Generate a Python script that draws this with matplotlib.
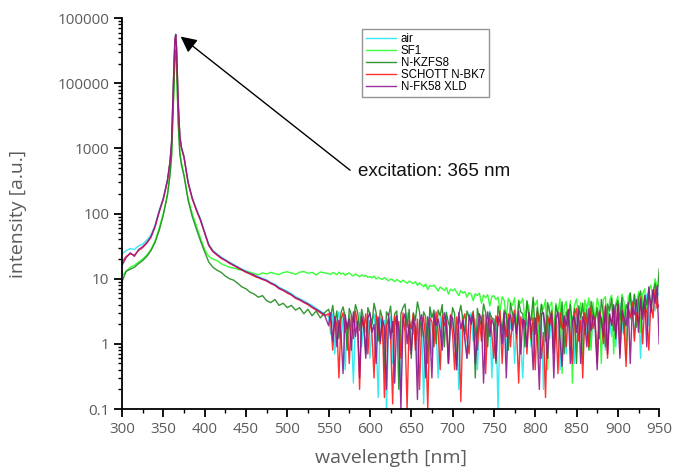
import matplotlib
matplotlib.use("Agg")
import matplotlib.pyplot as plt
from matplotlib.ticker import FixedLocator, FixedFormatter, LogLocator, MultipleLocator, NullFormatter

# sample grid: 5 nm steps, finer around the excitation peak, 2.5 nm in the noisy tail
wavelength = (list(range(300, 356, 5))
              + [358, 360, 362, 363, 364, 365, 366, 367, 368, 370, 372]
              + list(range(375, 550, 5))
              + [550 + 2.5 * i for i in range(161)])

air = [
    24, 27, 29, 28, 32, 34, 39, 47, 66, 112, 175, 330,
    620, 1250, 8500, 21000, 46000, 57000, 36000, 14500, 5200, 1550, 1050,
    760, 310, 175, 118, 82, 52, 34, 27, 24, 21.5,
    19.5, 18, 16.5, 15.2, 14, 13.2, 12.3, 11.2, 10.8, 10.1,
    9.6, 8.7, 8.2, 7.4, 6.9, 6.4, 5.9, 5.3, 4.9, 4.6,
    4.2, 3.9, 3.5, 3.2, 2.9,
    2.6, 1.4, 2.9, 0.7, 2.3, 3.1, 1.2, 2.5, 0.4, 2.0,
    2.8, 1.6, 0.25, 2.4, 1.9, 3.0, 0.9, 2.2, 1.5, 2.7,
    0.6, 2.1, 2.9, 1.3, 0.15, 2.5, 1.8, 2.3, 0.1, 1.7,
    2.6, 0.5, 2.0, 2.8, 1.1, 0.2, 2.4, 1.6, 3.0, 0.8,
    2.2, 1.4, 2.7, 0.35, 1.9, 2.5, 0.12, 2.1, 1.3, 2.9,
    0.7, 2.4, 1.8, 0.3, 2.6, 1.2, 2.0, 3.1, 0.5, 1.7,
    2.5, 0.9, 2.2, 0.2, 1.6, 2.8, 1.4, 0.6, 2.3, 3.0,
    1.1, 2.4, 0.4, 1.9, 2.7, 1.5, 0.8, 2.2, 3.2, 0.3,
    1.8, 2.6, 0.1, 2.0, 1.3, 2.9, 0.7, 2.3, 1.7, 3.1,
    0.5, 2.1, 2.7, 1.0, 0.3, 2.5, 1.9, 3.0, 0.9, 2.2,
    1.6, 3.2, 0.6, 2.4, 0.2, 2.0, 2.8, 1.2, 3.4, 0.8,
    2.5, 1.7, 0.4, 2.9, 2.1, 0.7, 3.3, 1.5, 2.6, 0.5,
    3.0, 1.9, 2.4, 0.6, 3.5, 1.4, 2.7, 0.9, 3.1, 2.0,
    0.7, 3.4, 1.8, 2.5, 0.8, 3.6, 2.2, 1.3, 3.8, 0.9,
    2.9, 4.2, 1.5, 3.3, 0.7, 3.9, 2.4, 4.6, 1.2, 3.5,
    5.0, 0.6, 4.4, 2.6, 5.8, 1.9, 4.8, 6.5, 3.2, 5.4,
    6.0,
]

sf1 = [
    11, 13, 15, 16, 18, 20, 23, 28, 38, 60, 100, 200,
    400, 800, 4200, 10500, 26000, 33000, 21000, 7200, 2600, 900, 600,
    400, 170, 100, 65, 42, 28, 22, 20, 19, 17,
    16, 15, 14.5, 14, 13.5, 13, 12.5, 12, 11.5, 12.3,
    11.8, 12.5, 12, 11.6, 12.4, 12.8, 12.2, 11.7, 12.6, 12.9,
    12.1, 12.5, 11.4, 12.7, 12.3,
    12.0, 11.6, 12.4, 12.1, 11.5, 12.6, 11.8, 12.2, 11.3, 11.9,
    12.3, 11.4, 11.0, 11.8, 11.3, 10.7, 11.5, 10.9, 11.2, 10.5,
    10.8, 10.3, 11.0, 9.9, 10.5, 10.1, 9.7, 10.4, 9.8, 9.3,
    9.9, 9.6, 9.0, 9.7, 9.3, 8.8, 9.5, 9.0, 8.5, 9.2,
    8.8, 8.4, 9.0, 7.9, 8.6, 8.1, 7.5, 8.3, 6.8, 7.9,
    7.6, 8.0, 7.2, 6.5, 7.5, 7.0, 6.6, 7.3, 5.8, 6.9,
    6.5, 7.0, 6.2, 5.5, 6.6, 6.0, 6.3, 5.2, 6.1, 5.8,
    4.6, 5.9, 5.5, 6.0, 4.2, 5.6, 5.1, 5.7, 3.8, 5.3,
    5.5, 4.8, 5.2, 3.2, 5.3, 4.6, 2.5, 5.0, 4.3, 3.9,
    5.1, 1.8, 4.7, 4.2, 5.0, 2.4, 4.4, 3.6, 1.1, 4.5,
    3.9, 4.7, 0.6, 4.1, 3.4, 4.8, 0.4, 3.8, 4.4, 1.5,
    4.2, 3.0, 4.9, 0.35, 3.7, 4.5, 1.9, 4.6, 0.25, 3.9,
    4.9, 2.8, 4.3, 0.5, 4.7, 3.5, 5.1, 0.8, 4.4, 2.2,
    5.0, 3.6, 0.5, 4.8, 5.3, 1.3, 4.6, 5.6, 0.7, 4.2,
    5.4, 1.4, 5.8, 4.4, 0.6, 5.2, 6.1, 2.3, 5.6, 4.0,
    6.3, 1.5, 5.9, 7.0, 3.0, 6.6, 8.0, 4.5, 10.0, 7.5,
    8.0,
]

n_kzfs8 = [
    9, 13, 14, 15, 17, 19, 22, 27, 36, 55, 95, 190,
    380, 750, 4000, 10000, 25000, 32000, 20000, 7000, 2500, 800, 550,
    380, 160, 90, 58, 38, 26, 18, 15, 13.5, 12.5,
    11, 10, 9.5, 8.5, 7.5, 7.0, 6.2, 5.8, 5.2, 5.5,
    4.6, 4.3, 4.8, 3.9, 4.2, 3.6, 3.9, 3.3, 3.6, 2.9,
    3.4, 2.7, 3.2, 2.5, 3.0,
    3.4, 2.6, 3.9, 2.1, 3.2, 1.2, 3.0, 3.7, 2.6, 0.8,
    3.5, 2.8, 2.2, 4.0, 3.1, 1.6, 3.4, 2.4, 0.7, 3.6,
    2.9, 2.0, 4.2, 3.0, 1.1, 3.3, 2.5, 0.4, 3.1, 2.7,
    3.8, 1.5, 2.9, 3.2, 0.2, 2.9, 3.6, 4.1, 1.8, 3.4,
    0.6, 3.0, 2.3, 4.4, 3.1, 1.3, 3.1, 2.6, 0.5, 3.7,
    2.5, 3.3, 1.0, 3.3, 2.7, 4.0, 0.9, 3.0, 2.1, 1.7,
    3.6, 2.9, 0.45, 2.8, 3.9, 2.3, 1.4, 3.2, 2.6, 2.2,
    3.2, 0.3, 3.5, 2.4, 1.9, 4.1, 3.0, 0.9, 3.0, 2.5,
    2.4, 0.5, 3.8, 2.6, 1.6, 3.3, 2.8, 0.8, 4.2, 2.9,
    2.5, 1.2, 4.5, 3.1, 2.9, 0.9, 4.6, 2.6, 2.3, 5.2,
    1.4, 3.6, 2.2, 4.0, 2.6, 1.1, 4.3, 3.0, 2.6, 0.7,
    3.9, 2.8, 1.8, 4.4, 0.7, 3.1, 2.4, 4.0, 2.0, 3.5,
    0.5, 3.8, 2.5, 4.2, 1.4, 3.4, 0.8, 4.5, 3.1, 2.2,
    3.6, 1.2, 4.8, 2.9, 0.9, 4.1, 3.2, 5.0, 1.6, 3.8,
    4.6, 2.3, 5.2, 1.4, 4.0, 3.3, 6.0, 2.6, 5.8, 1.8,
    4.9, 6.5, 2.8, 5.5, 4.0, 7.2, 3.2, 6.0, 8.5, 5.0,
    14.0,
]

schott_n_bk7 = [
    18, 22, 24, 23, 27, 30, 35, 43, 62, 105, 165, 315,
    600, 1200, 8000, 20000, 45000, 55000, 35000, 14000, 5000, 1500, 1000,
    730, 295, 168, 112, 78, 50, 32, 26, 23, 20.5,
    19, 17.2, 16, 14.6, 13.6, 12.5, 11.8, 10.9, 10.3, 9.7,
    9.2, 8.4, 7.9, 7.0, 6.6, 6.0, 5.6, 5.0, 4.7, 4.3,
    4.0, 3.6, 3.3, 3.0, 2.7,
    2.9, 2.2, 0.8, 2.6, 1.9, 0.3, 2.4, 3.0, 1.5, 2.1,
    0.5, 2.7, 1.2, 3.2, 2.0, 0.2, 2.5, 1.7, 2.9, 0.7,
    2.3, 1.4, 0.3, 2.8, 2.1, 1.0, 2.6, 0.15, 1.9, 2.4,
    1.3, 0.12, 2.7, 1.8, 2.2, 0.6, 3.0, 1.5, 0.1, 2.3,
    1.7, 2.9, 0.8, 2.4, 0.2, 2.0, 2.6, 1.1, 0.1, 2.5,
    2.2, 0.9, 3.1, 1.6, 0.4, 2.7, 1.9, 2.3, 0.5, 2.8,
    1.4, 0.4, 2.6, 1.8, 0.13, 2.3, 2.9, 1.2, 0.7, 2.5,
    3.0, 1.6, 0.8, 2.4, 1.1, 2.8, 0.35, 2.0, 2.6, 1.4,
    0.6, 2.7, 1.9, 3.2, 0.5, 2.2, 1.3, 2.9, 0.9, 2.4,
    3.3, 1.5, 0.25, 2.6, 1.8, 2.3, 0.7, 3.0, 1.2, 2.5,
    0.4, 3.1, 2.0, 0.6, 1.5, 0.15, 2.7, 1.9, 3.2, 0.8,
    2.4, 0.35, 3.0, 1.7, 2.5, 0.9, 3.4, 1.3, 0.5, 2.8,
    3.5, 1.1, 2.3, 0.3, 3.0, 2.1, 0.9, 3.6, 1.7, 2.6,
    0.5, 3.2, 2.4, 1.0, 3.9, 0.6, 2.8, 2.0, 3.5, 1.4,
    4.0, 0.7, 3.3, 1.8, 0.45, 3.7, 2.5, 4.4, 1.1, 3.0,
    2.2, 5.2, 1.0, 4.0, 3.0, 0.8, 4.6, 2.5, 6.8, 3.5,
    4.0,
]

n_fk58_xld = [
    16, 21, 25, 22, 28, 31, 36, 44, 64, 108, 170, 325,
    610, 1230, 8300, 20500, 46000, 56000, 35500, 14200, 5100, 1520, 1020,
    745, 300, 172, 115, 80, 51, 33, 26.5, 23.5, 21,
    19.2, 17.6, 16.2, 15, 13.8, 12.8, 12, 11.4, 10.5, 9.9,
    9.4, 8.6, 8.0, 7.2, 6.7, 6.2, 5.7, 5.1, 4.8, 4.4,
    4.1, 3.7, 3.4, 3.1, 2.8,
    1.9, 3.0, 1.1, 2.6, 0.9, 2.3, 1.4, 0.35, 2.8, 1.7,
    2.4, 0.8, 3.1, 1.3, 2.2, 0.3, 2.7, 1.9, 0.6, 2.5,
    3.0, 1.5, 2.0, 0.5, 2.6, 1.1, 2.4, 1.8, 0.2, 2.9,
    1.2, 2.2, 0.25, 2.7, 1.6, 0.1, 2.3, 2.9, 1.0, 2.0,
    0.7, 2.5, 1.8, 0.14, 2.2, 2.8, 1.3, 0.3, 2.6, 1.5,
    0.3, 2.9, 1.9, 2.4, 1.6, 0.8, 3.0, 2.1, 0.5, 2.7,
    2.5, 1.2, 0.4, 3.0, 1.7, 2.3, 1.1, 0.6, 2.8, 2.0,
    2.7, 0.5, 1.5, 2.9, 2.3, 0.25, 1.9, 3.1, 1.3, 2.4,
    1.9, 0.55, 2.6, 2.1, 1.0, 3.0, 0.3, 2.2, 2.8, 1.6,
    2.8, 1.4, 3.2, 0.7, 2.4, 2.1, 0.9, 3.0, 1.8, 0.4,
    2.5, 1.4, 0.2, 2.9, 3.0, 1.7, 0.6, 2.4, 2.9, 0.3,
    2.4, 3.1, 1.2, 0.45, 2.7, 1.9, 3.3, 0.5, 2.2, 2.6,
    1.5, 3.3, 0.5, 2.6, 2.0, 0.9, 3.5, 1.6, 2.8, 1.8,
    0.4, 3.0, 2.4, 1.3, 3.7, 0.7, 2.9, 1.9, 4.0, 1.2,
    4.0, 0.6, 3.2, 2.5, 1.9, 4.3, 0.5, 3.6, 2.8, 4.8,
    1.5, 4.8, 2.4, 5.5, 0.9, 7.5, 3.0, 6.8, 4.2, 7.8,
    1.0,
]

series_names = ["air", "SF1", "N-KZFS8", "SCHOTT N-BK7", "N-FK58 XLD"]
series_values = [air, sf1, n_kzfs8, schott_n_bk7, n_fk58_xld]
series_colors = ["#22e8f0", "#22ff22", "#1f8a1f", "#ff1a1a", "#8e1a8e"]

y_ticks = [0.1, 1, 10, 100, 1000, 10000, 100000]
y_tick_labels = ["0.1", "1", "10", "100", "1000", "100000", "100000"]
x_ticks = list(range(300, 951, 50))

for vals in series_values:
    assert len(vals) == len(wavelength), len(vals)

label_gray = "#5c5c5c"

fig = plt.figure(figsize=(6.74, 4.71), dpi=100)
ax = fig.add_axes([0.181, 0.1316, 0.797, 0.830])

for name, vals, color in zip(series_names, series_values, series_colors):
    ax.plot(wavelength, vals, color=color, lw=1.0, alpha=0.9, label=name)

ax.set_yscale("log")
ax.set_xlim(300, 950)
ax.set_ylim(0.1, 100000)

ax.yaxis.set_major_locator(FixedLocator(y_ticks))
ax.yaxis.set_major_formatter(FixedFormatter(y_tick_labels))
ax.yaxis.set_minor_locator(LogLocator(base=10, subs=range(2, 10)))
ax.yaxis.set_minor_formatter(NullFormatter())
ax.xaxis.set_major_locator(FixedLocator(x_ticks))
ax.xaxis.set_minor_locator(MultipleLocator(25))

for side in ["top", "right"]:
    ax.spines[side].set_visible(False)
for side in ["left", "bottom"]:
    ax.spines[side].set_linewidth(1.3)

ax.tick_params(which="major", direction="out", length=6, width=1.3,
               labelsize=11, labelcolor=label_gray, pad=3)
ax.tick_params(which="minor", direction="out", length=3, width=1.0)
for lab in ax.get_xticklabels() + ax.get_yticklabels():
    lab.set_fontfamily("Open Sans")

ax.set_xlabel("wavelength [nm]", fontsize=14, color=label_gray, family="Open Sans", labelpad=9)
ax.set_ylabel("intensity [a.u.]", fontsize=14, color=label_gray, family="Open Sans", labelpad=22)

leg = ax.legend(loc="upper left", bbox_to_anchor=(0.447, 0.972), borderaxespad=0,
                prop={"family": "Liberation Sans", "size": 8.3},
                frameon=True, fancybox=False, handlelength=2.6, handletextpad=0.4,
                labelspacing=0.0, borderpad=0.35)
leg.get_frame().set_edgecolor("#7a7a7a")
leg.get_frame().set_linewidth(1.0)

ax.annotate("", xy=(371, 52000), xytext=(576, 463),
            arrowprops=dict(arrowstyle="-|>", color="black", lw=1.0,
                            mutation_scale=24, shrinkA=0, shrinkB=0))
ax.text(586, 437, "excitation: 365 nm", fontsize=13.5, family="Liberation Sans",
        color="#111111", ha="left", va="center")

fig.savefig("out.png", dpi=100)
